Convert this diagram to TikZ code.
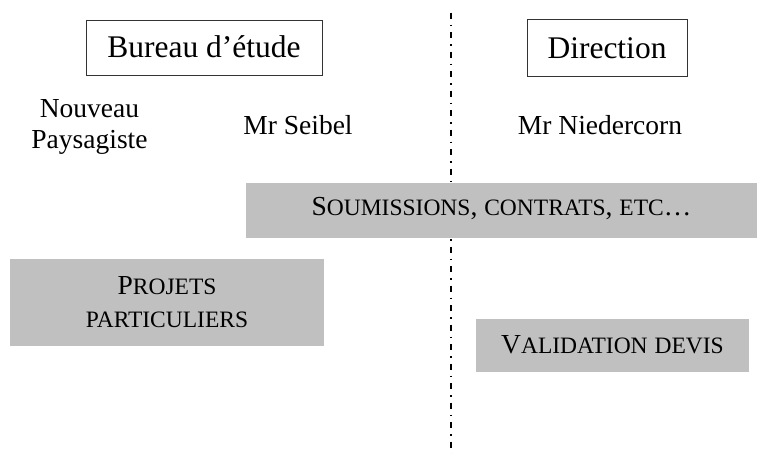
\documentclass[tikz,border=0pt]{standalone}
\usepackage{fontspec}
\setmainfont{Liberation Serif}
\definecolor{boxgrey}{RGB}{192,192,192}
\newcommand\smc[1]{{\fontsize{23.5}{23.5}\selectfont #1}}
\begin{document}
\begin{tikzpicture}[x=1pt,y=-1pt,
  titlebox/.style={draw=black!80, line width=1pt, inner sep=0pt, font=\fontsize{31.5}{36}\selectfont},
  greybox/.style={fill=boxgrey, inner sep=0pt, font=\fontsize{27.5}{33}\selectfont, align=center},
  person/.style={inner sep=0pt, font=\fontsize{27.5}{31}\selectfont, align=center},
  divider/.style={line width=1.5pt, dash pattern=on 6pt off 6pt on 1.5pt off 6pt}]
\useasboundingbox (0,0) rectangle (758,454);
% dash-dot divider
\coordinate (divtop) at (451,12.7);
\coordinate (divbot) at (451,454);
\draw[divider] (divtop) -- (divbot);
% title boxes
\node[titlebox, minimum width=236pt, minimum height=55pt, text height=22pt, text depth=3pt] (bureau) at (204,48.5) {Bureau d’étude};
\node[titlebox, minimum width=160pt, minimum height=57pt, text height=22pt, text depth=1pt] (direction) at (607,48.5) {Direction};
% people
\node[person] (paysagiste) at (89.5,126.5) {Nouveau\\Paysagiste};
\node[person, anchor=base] (seibel) at (298,135) {Mr Seibel};
\node[person, anchor=base] (niedercorn) at (600,135) {Mr Niedercorn};
% grey boxes
\node[greybox, minimum width=511pt, minimum height=55pt, text height=18pt, text depth=7.6pt] (soumissions) at (501.5,210.5) {S\smc{OUMISSIONS}, \smc{CONTRATS}, \smc{ETC}…};
\node[greybox, minimum width=314pt, minimum height=87pt] (projets) at (167,302.5) {P\smc{ROJETS}\\\smc{PARTICULIERS}};
\node[greybox, minimum width=273pt, minimum height=53pt, text height=18pt, text depth=1pt] (validation) at (612.5,345.5) {V\smc{ALIDATION} \smc{DEVIS}};
\end{tikzpicture}
\end{document}
